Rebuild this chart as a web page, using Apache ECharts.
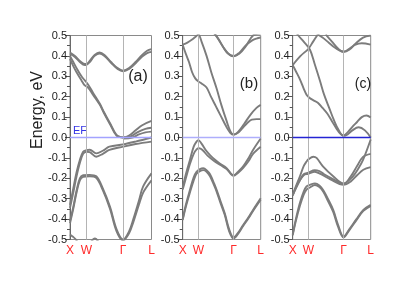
<!DOCTYPE html>
<html><head><meta charset="utf-8">
<script src="https://cdn.jsdelivr.net/npm/echarts@6/dist/echarts.min.js"></script>
<style>html,body{margin:0;padding:0;background:#fff}#c{width:415px;height:294px}</style>
</head><body><div id="c"></div>
<script>
// high-symmetry points (k-path distance) and their labels
const kPoints = [0, 0.5, 1.618, 2.484];
const kLabels = ['X', 'W', 'Γ', 'L'];
const panelLabels = ['(a)', '(b)', '(c)'];
const yName = 'Energy, eV';
const efLabel = 'EF';

// ---- panel (a) bands: [k, E(eV)] ----
const a_c1 = [[0,0.417],[0.15,0.40],[0.3,0.375],[0.45,0.36],[0.5,0.36],[0.6,0.375],[0.75,0.405],[0.9,0.417],[1.05,0.405],[1.25,0.37],[1.45,0.34],[1.618,0.328],[1.8,0.34],[2.0,0.37],[2.2,0.405],[2.35,0.425],[2.484,0.433]];
const a_c1b = [[0,0.41],[0.15,0.395],[0.3,0.37],[0.45,0.355],[0.5,0.356],[0.6,0.37],[0.75,0.4],[0.9,0.412],[1.05,0.4],[1.25,0.366],[1.45,0.336],[1.618,0.325],[1.8,0.336],[2.0,0.364],[2.2,0.397],[2.35,0.414],[2.484,0.42]];
const a_c2 = [[0,0.40],[0.1,0.37],[0.2,0.34],[0.35,0.30],[0.45,0.28],[0.55,0.26],[0.7,0.22],[0.91,0.165],[1.05,0.12],[1.22,0.07],[1.35,0.03],[1.45,0.008],[1.618,0.0],[1.8,0.01],[2.0,0.035],[2.2,0.06],[2.484,0.081]];
const a_c2b = [[0,0.385],[0.1,0.35],[0.2,0.32],[0.35,0.28],[0.45,0.255],[0.55,0.245],[0.7,0.21],[0.91,0.16],[1.05,0.115],[1.22,0.065],[1.35,0.025],[1.45,0.005],[1.618,0.0],[1.85,0.005],[2.05,0.025],[2.3,0.042],[2.484,0.048]];
const a_c3 = [[1.618,-0.005],[1.9,0.0],[2.1,0.015],[2.3,0.025],[2.484,0.029]];
const a_v1 = [[0,-0.33],[0.1,-0.25],[0.2,-0.17],[0.3,-0.11],[0.4,-0.07],[0.5,-0.062],[0.6,-0.06],[0.8,-0.078],[1.0,-0.065],[1.2,-0.045],[1.618,-0.034],[2.0,-0.02],[2.484,0.0]];
const a_v2 = [[0,-0.345],[0.1,-0.27],[0.2,-0.19],[0.3,-0.125],[0.4,-0.08],[0.5,-0.07],[0.6,-0.072],[0.8,-0.094],[1.0,-0.08],[1.2,-0.061],[1.618,-0.045],[2.0,-0.032],[2.484,-0.02]];
const a_v3 = [[0,-0.41],[0.1,-0.34],[0.2,-0.26],[0.3,-0.2],[0.4,-0.185],[0.6,-0.183],[0.8,-0.19],[1.0,-0.25],[1.22,-0.34],[1.42,-0.45],[1.618,-0.5],[1.8,-0.46],[1.93,-0.40],[2.1,-0.31],[2.23,-0.24],[2.484,-0.176]];
const a_v4 = [[0,-0.42],[0.1,-0.35],[0.2,-0.27],[0.3,-0.21],[0.4,-0.193],[0.6,-0.19],[0.8,-0.198],[1.0,-0.258],[1.22,-0.35],[1.42,-0.46],[1.618,-0.505],[1.8,-0.47],[1.93,-0.415],[2.1,-0.33],[2.23,-0.27],[2.484,-0.21]];
const a_v5 = [[0,-0.475],[0.08,-0.485],[0.18,-0.5],[0.25,-0.52]];
const a_v6 = [[0.6,-0.52],[0.76,-0.495],[0.9,-0.52]];

// ---- panel (b) bands ----
const b_c1 = [[0,0.455],[0.15,0.465],[0.3,0.48],[0.42,0.495],[0.5,0.505],[0.6,0.47],[0.76,0.40],[0.91,0.32],[1.08,0.24],[1.23,0.16],[1.4,0.08],[1.52,0.03],[1.618,0.015],[1.75,0.022],[1.9,0.045],[2.05,0.07],[2.2,0.088],[2.35,0.09],[2.484,0.09]];
const b_c2 = [[0,0.455],[0.1,0.41],[0.2,0.37],[0.3,0.32],[0.4,0.29],[0.5,0.275],[0.6,0.265],[0.76,0.245],[0.9,0.2],[1.05,0.155],[1.2,0.11],[1.4,0.05],[1.52,0.022],[1.618,0.013],[1.75,0.025],[1.95,0.065],[2.15,0.11],[2.35,0.145],[2.484,0.16]];
const b_c3 = [[0.95,0.52],[1.1,0.49],[1.3,0.44],[1.45,0.41],[1.618,0.40],[1.8,0.41],[2.0,0.445],[2.24,0.5],[2.484,0.51]];
const b_c4 = [[1.0,0.515],[1.15,0.48],[1.35,0.43],[1.5,0.405],[1.618,0.398],[1.8,0.415],[2.0,0.45],[2.2,0.475],[2.35,0.485],[2.484,0.49]];
const b_v1 = [[0,-0.245],[0.1,-0.18],[0.23,-0.11],[0.35,-0.045],[0.44,-0.02],[0.5,-0.013],[0.6,-0.03],[0.75,-0.065],[0.87,-0.086],[1.0,-0.105],[1.18,-0.127],[1.4,-0.15],[1.618,-0.185],[1.75,-0.17],[1.92,-0.143],[2.1,-0.1],[2.24,-0.061],[2.484,-0.005]];
const b_v2 = [[0,-0.255],[0.1,-0.2],[0.23,-0.13],[0.35,-0.08],[0.45,-0.057],[0.52,-0.053],[0.62,-0.06],[0.8,-0.09],[1.0,-0.115],[1.2,-0.135],[1.4,-0.155],[1.618,-0.188],[1.75,-0.175],[1.92,-0.15],[2.1,-0.115],[2.24,-0.08],[2.484,-0.045]];
const b_v3 = [[0,-0.40],[0.1,-0.33],[0.23,-0.257],[0.35,-0.195],[0.44,-0.168],[0.55,-0.155],[0.655,-0.151],[0.76,-0.16],[0.87,-0.18],[1.0,-0.225],[1.08,-0.257],[1.2,-0.31],[1.34,-0.372],[1.48,-0.45],[1.618,-0.49],[1.75,-0.47],[1.92,-0.43],[2.1,-0.39],[2.24,-0.355],[2.484,-0.298]];
const b_v4 = [[0,-0.405],[0.1,-0.34],[0.23,-0.27],[0.35,-0.21],[0.44,-0.178],[0.55,-0.165],[0.655,-0.16],[0.76,-0.168],[0.87,-0.19],[1.0,-0.235],[1.08,-0.265],[1.2,-0.32],[1.34,-0.38],[1.48,-0.46],[1.618,-0.495],[1.75,-0.475],[1.92,-0.435],[2.1,-0.395],[2.24,-0.36],[2.484,-0.305]];

// ---- panel (c) bands ----
const c_c1 = [[0,0.355],[0.25,0.40],[0.5,0.435],[0.65,0.47],[0.8,0.505]];
const c_c2 = [[0,0.355],[0.1,0.325],[0.23,0.285],[0.35,0.24],[0.44,0.21],[0.53,0.195],[0.65,0.183],[0.8,0.17],[0.95,0.145],[1.1,0.118],[1.25,0.08],[1.4,0.042],[1.52,0.018],[1.618,0.01],[1.75,0.025],[1.9,0.052],[2.05,0.076],[2.2,0.1],[2.35,0.108],[2.484,0.098]];
const c_c3 = [[0.1,0.52],[0.18,0.5],[0.35,0.47],[0.55,0.43],[0.7,0.36],[0.87,0.277],[1.0,0.21],[1.18,0.138],[1.3,0.09],[1.45,0.04],[1.618,0.008],[1.75,0.015],[1.9,0.035],[2.1,0.05],[2.3,0.035],[2.484,0.0]];
const c_c4 = [[0.8,0.505],[0.95,0.49],[1.15,0.465],[1.35,0.44],[1.618,0.42],[1.8,0.43],[2.0,0.46],[2.24,0.49],[2.484,0.5]];
const c_c5 = [[1.05,0.505],[1.25,0.47],[1.45,0.435],[1.618,0.42],[1.8,0.435],[2.0,0.455],[2.2,0.462],[2.484,0.455]];
const c_v1 = [[0,-0.282],[0.1,-0.24],[0.23,-0.19],[0.35,-0.14],[0.44,-0.118],[0.5,-0.107],[0.655,-0.094],[0.76,-0.1],[0.97,-0.143],[1.29,-0.19],[1.618,-0.225],[1.92,-0.19],[2.1,-0.15],[2.24,-0.11],[2.484,-0.01]];
const c_v2 = [[0,-0.282],[0.1,-0.25],[0.23,-0.21],[0.35,-0.18],[0.5,-0.172],[0.7,-0.16],[0.85,-0.165],[1.0,-0.18],[1.3,-0.205],[1.618,-0.228],[1.85,-0.19],[2.05,-0.14],[2.24,-0.095],[2.484,-0.08]];
const c_v3 = [[0,-0.285],[0.15,-0.23],[0.35,-0.185],[0.5,-0.178],[0.7,-0.168],[0.9,-0.18],[1.2,-0.205],[1.618,-0.232],[1.85,-0.215],[2.05,-0.185],[2.25,-0.158],[2.484,-0.145]];
const c_v4 = [[0,-0.475],[0.1,-0.4],[0.23,-0.32],[0.35,-0.265],[0.44,-0.24],[0.55,-0.232],[0.71,-0.225],[0.85,-0.235],[0.97,-0.257],[1.12,-0.3],[1.29,-0.355],[1.45,-0.43],[1.618,-0.486],[1.8,-0.45],[2.03,-0.40],[2.25,-0.355],[2.484,-0.33]];
const c_v5 = [[0,-0.48],[0.1,-0.41],[0.23,-0.335],[0.35,-0.28],[0.44,-0.255],[0.55,-0.245],[0.71,-0.233],[0.85,-0.243],[0.97,-0.265],[1.12,-0.31],[1.29,-0.365],[1.45,-0.44],[1.618,-0.49],[1.8,-0.455],[2.03,-0.405],[2.25,-0.36],[2.484,-0.335]];

const panelA = [a_c1, a_c1b, a_c2, a_c2b, a_c3, a_v1, a_v2, a_v3, a_v4, a_v5, a_v6];
const panelB = [b_c1, b_c2, b_c3, b_c4, b_v1, b_v2, b_v3, b_v4];
const panelC = [c_c1, c_c2, c_c3, c_c4, c_c5, c_v1, c_v2, c_v3, c_v4, c_v5];
const panels = [panelA, panelB, panelC];

// ---- layout / style ----
const grids = [
  {left: 70, top: 35.5, width: 81.5, height: 204},
  {left: 182.7, top: 35.5, width: 78, height: 204},
  {left: 292.7, top: 35.5, width: 78, height: 204}
];
const efColors = ['#a3a3ff', '#aeaefc', '#2424d4'];
const bandColor = '#7c7c7c';
const FONT = 'Liberation Sans, Arial, sans-serif';

const chart = echarts.init(document.getElementById('c'), null, {renderer: 'canvas'});
const option = {
  animation: false,
  grid: grids.map(g => Object.assign({show: true, borderColor: '#8a8a8a', borderWidth: 1, backgroundColor: 'transparent'}, g)),
  xAxis: grids.map((g, i) => ({
    type: 'value', gridIndex: i, min: kPoints[0], max: kPoints[3],
    axisLine: {show: true, lineStyle: {color: '#8a8a8a'}},
    axisTick: {show: false},
    splitLine: {show: false},
    axisLabel: {
      customValues: kPoints, margin: 5, color: '#ff2a2a', fontSize: 12, fontFamily: FONT,
      formatter: v => { const idx = kPoints.findIndex(p => Math.abs(p - v) < 1e-6); return idx >= 0 ? kLabels[idx] : ''; }
    }
  })),
  yAxis: grids.map((g, i) => ({
    type: 'value', gridIndex: i, min: -0.5, max: 0.5, interval: 0.1,
    axisLine: {show: true, lineStyle: {color: '#6a6a6a'}},
    axisTick: {show: true, length: 5, lineStyle: {color: '#555'}},
    minorTick: {show: true, splitNumber: 2, length: 3, lineStyle: {color: '#555'}},
    splitLine: {show: false},
    axisLabel: {
      margin: 3, color: '#222', fontSize: 11, fontFamily: FONT,
      formatter: v => Math.abs(v) < 1e-9 ? '0.0' : v.toFixed(1)
    }
  })),
  series: [],
  graphic: [
    {type: 'text', x: 38, y: 110, rotation: Math.PI / 2, style: {text: yName, fontSize: 16, fill: '#222', fontFamily: FONT, align: 'center', verticalAlign: 'middle'}},
    {type: 'text', x: 80, y: 131, style: {text: efLabel, fontSize: 11, fill: '#3434e6', fontFamily: FONT, align: 'center', verticalAlign: 'middle'}},
    {type: 'text', x: 138, y: 77, style: {text: panelLabels[0], fontSize: 16, fill: '#222', fontFamily: FONT, align: 'center', verticalAlign: 'middle'}},
    {type: 'text', x: 249, y: 84, style: {text: panelLabels[1], fontSize: 15, fill: '#222', fontFamily: FONT, align: 'center', verticalAlign: 'middle'}},
    {type: 'text', x: 363, y: 84, style: {text: panelLabels[2], fontSize: 14, fill: '#222', fontFamily: FONT, align: 'center', verticalAlign: 'middle'}}
  ]
};

panels.forEach((bands, i) => {
  // reference lines (W, Γ verticals and Fermi level)
  option.series.push({
    type: 'line', xAxisIndex: i, yAxisIndex: i, data: [], silent: true, z: 1,
    markLine: {
      silent: true, symbol: ['none', 'none'], label: {show: false}, animation: false,
      data: [
        {xAxis: kPoints[1], lineStyle: {color: '#b4b4b4', width: 1, type: 'solid'}},
        {xAxis: kPoints[2], lineStyle: {color: '#b4b4b4', width: 1, type: 'solid'}},
        {yAxis: 0, lineStyle: {color: efColors[i], width: 1.3, type: 'solid'}}
      ]
    }
  });
  bands.forEach(b => {
    option.series.push({
      type: 'line', xAxisIndex: i, yAxisIndex: i, data: b, smooth: 0.35,
      symbol: 'none', showSymbol: false, silent: true, clip: true, z: 2,
      lineStyle: {color: bandColor, width: 1.9}
    });
  });
});

chart.setOption(option);
</script>
</body></html>
